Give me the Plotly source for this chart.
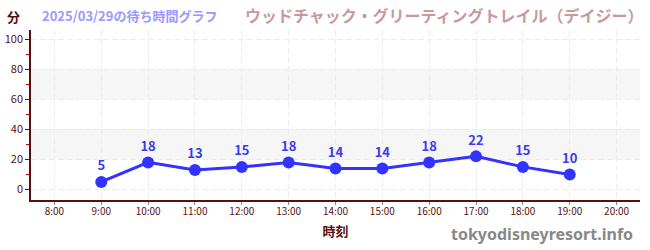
import plotly.graph_objects as go

hours = [9, 10, 11, 12, 13, 14, 15, 16, 17, 18, 19]
waits = [5, 18, 13, 15, 18, 14, 14, 18, 22, 15, 10]
tick_hours = list(range(8, 21))
tick_labels = [f"{h}:00" for h in tick_hours]
y_ticks = [0, 20, 40, 60, 80, 100]

font = "Noto Sans CJK JP"
dark = "#5a0f0f"
grid = "#ececec"

fig = go.Figure()
fig.add_trace(go.Scatter(
    x=hours, y=waits, mode="lines+markers+text",
    text=[str(v) for v in waits], textposition="top center",
    textfont=dict(color="#3a3af0", size=13, family=font, weight="bold"),
    line=dict(color="#3333ff", width=3),
    marker=dict(color="#3333ff", size=12),
    cliponaxis=False, showlegend=False,
))

for y0, y1 in [(20, 40), (60, 80)]:
    fig.add_shape(type="rect", xref="paper", yref="y", x0=0, x1=1, y0=y0, y1=y1,
                  fillcolor="#f6f6f6", line=dict(width=0), layer="below")

fig.update_layout(
    width=650, height=250,
    margin=dict(l=31, r=10, t=30, b=50),
    paper_bgcolor="white", plot_bgcolor="white",
    font=dict(family=font, color=dark),
    xaxis=dict(
        range=[7.5, 20.5], tickvals=tick_hours, ticktext=tick_labels,
        tickfont=dict(size=10, color=dark), showgrid=True,
        gridcolor=grid, griddash="6px,3px", gridwidth=1,
        showline=True, linecolor=dark, linewidth=1.5,
        ticks="outside", tickcolor="#888888", ticklen=3, zeroline=False,
        ticklabelstandoff=-2, automargin=False,
        title=dict(text="<b>時刻</b>", font=dict(size=13, color=dark), standoff=10),
    ),
    yaxis=dict(
        range=[-7, 106], tickvals=y_ticks,
        tickfont=dict(size=11, color=dark), showgrid=True,
        gridcolor=grid, griddash="6px,3px", gridwidth=1,
        showline=True, linecolor=dark, linewidth=1.5,
        ticks="outside", tickcolor=dark, ticklen=4, zeroline=False,
        automargin=False,
        minor=dict(tickvals=[10, 30, 50, 70, 90], ticks="outside", ticklen=3,
                   tickcolor="#cc0000", showgrid=False),
    ),
)

fig.add_annotation(xref="paper", yref="paper", x=-0.048, y=1.0, yshift=14, xshift=3,
                   text="<b>分</b>", showarrow=False, xanchor="left", yanchor="middle",
                   font=dict(size=13, color=dark))
fig.add_annotation(xref="paper", yref="paper", x=0.0, y=1.0, yshift=15, xshift=9,
                   text="<b>2025/03/29の待ち時間グラフ</b>", showarrow=False, xanchor="left",
                   yanchor="middle", font=dict(size=13, color="#9999ff"))
fig.add_annotation(xref="paper", yref="paper", x=0.348, y=1.0, yshift=15,
                   text="<b>ウッドチャック・グリーティングトレイル（デイジー）</b>", showarrow=False,
                   xanchor="left", yanchor="middle", font=dict(size=16, color="#c99a9a"))
fig.add_annotation(xref="paper", yref="paper", x=1.0, y=0, yshift=-34, xshift=-5,
                   text="<b>tokyodisneyresort.info</b>", showarrow=False, xanchor="right",
                   yanchor="middle", font=dict(size=16, color="#888888", family="Noto Sans"))

fig.write_html("out.html")
